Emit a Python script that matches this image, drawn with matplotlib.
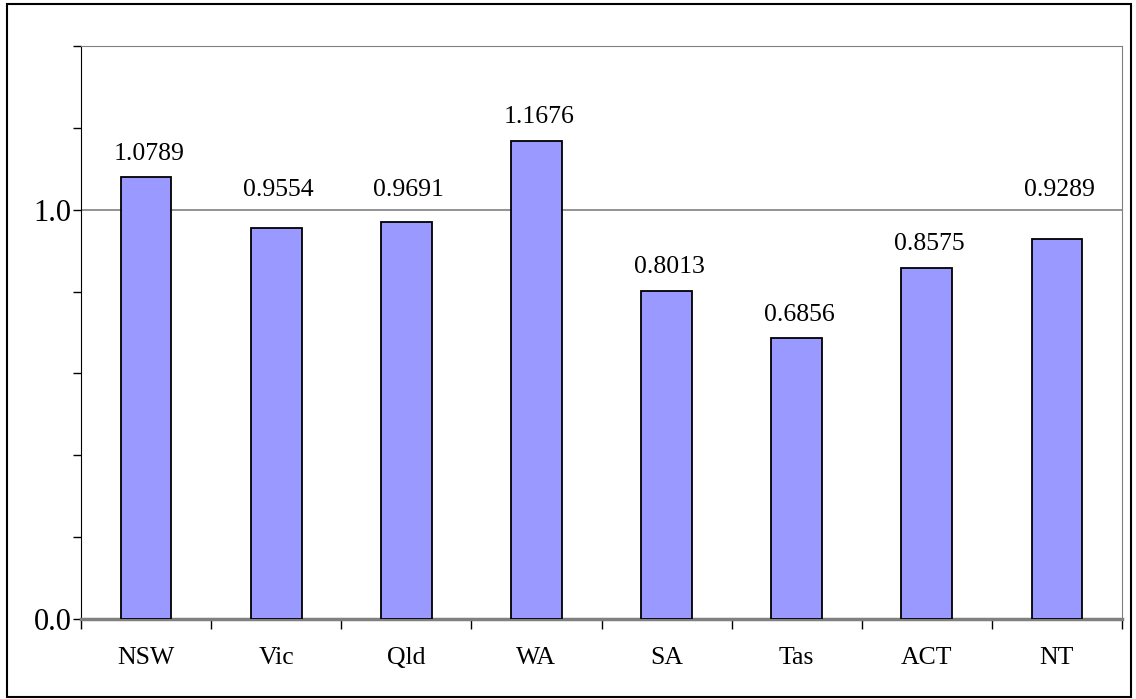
import numpy as np
import matplotlib.pyplot as plt
from matplotlib.patches import Rectangle

states = ['NSW', 'Vic', 'Qld', 'WA', 'SA', 'Tas', 'ACT', 'NT']
values = [1.0789, 0.9554, 0.9691, 1.1676, 0.8013, 0.6856, 0.8575, 0.9289]

plt.rcParams['font.family'] = ['Liberation Serif', 'DejaVu Serif']

fig = plt.figure(figsize=(11.36, 6.99), dpi=100)
# outer frame
fig.patches.append(Rectangle((7 / 1136, 2 / 699), 1124 / 1136, 693 / 699,
                             transform=fig.transFigure, fill=False,
                             edgecolor='black', linewidth=1.5))

ax = fig.add_axes([81 / 1136, 1 - 619 / 699, 1041 / 1136, 573 / 699])
x = np.arange(len(states))
ax.bar(x, values, width=0.39, color='#9999FF', edgecolor='black', linewidth=1.3, zorder=3)
ax.set_xlim(-0.5, len(states) - 0.5)
ax.set_ylim(0, 1.4)

ax.axhline(1.0, color='#808080', linewidth=1.2, zorder=1)

# labels sit above the bar; those that would cross the 1.0 line go just above it
for xi, v in zip(x, values):
    ly = v + 0.058
    if 0.95 < ly < 1.06:
        ly = 1.047
    ax.text(xi + 0.02, ly, '%.4f' % v, ha='center', va='center', fontsize=18.5)

ax.set_yticks(np.arange(0, 1.41, 0.2))
ax.set_yticklabels(['0.0', '', '', '', '', '1.0', '', ''], fontsize=22)
ax.tick_params(axis='y', direction='out', length=6, width=1, pad=1)

ax.set_xticks(np.arange(-0.5, len(states), 1))
ax.set_xticklabels([])
ax.set_xticks(x, minor=True)
ax.set_xticklabels(states, minor=True, fontsize=18.5)
ax.tick_params(axis='x', which='major', direction='out', length=7, width=1)
ax.tick_params(axis='x', which='minor', length=0, pad=20)

ax.spines['left'].set_color('black')
ax.spines['bottom'].set_color('#808080')
ax.spines['bottom'].set_linewidth(2.5)
ax.spines['top'].set_color('#808080')
ax.spines['right'].set_color('#808080')

fig.savefig('out.png', dpi=100)
